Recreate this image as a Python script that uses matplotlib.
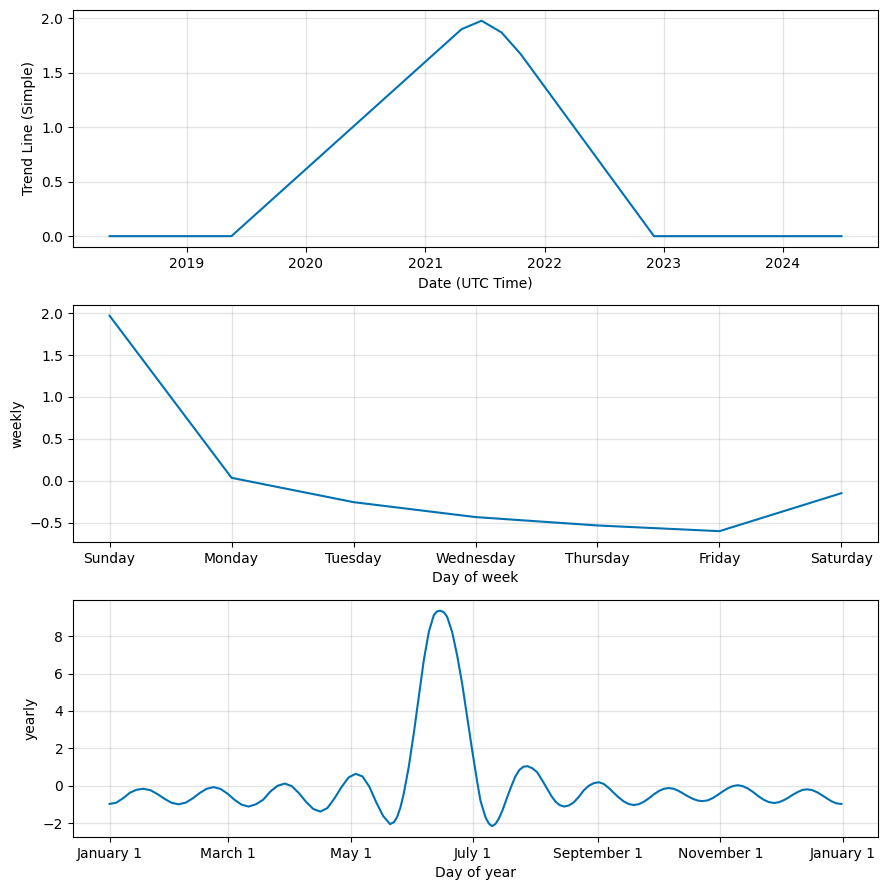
import matplotlib
matplotlib.use("Agg")
import matplotlib.pyplot as plt
import matplotlib.dates as mdates
import pandas as pd

# ---- Trend component ----
trend_dates = ['2018-05-10', '2019-05-18', '2021-04-22', '2021-06-22',
               '2021-08-22', '2021-10-20', '2022-12-02', '2024-06-28']
trend_values = [0.0, 0.0, 1.90, 1.977, 1.87, 1.67, 0.0, 0.0]

# ---- Weekly component ----
week_days = ['Sunday', 'Monday', 'Tuesday', 'Wednesday', 'Thursday', 'Friday', 'Saturday']
weekly_values = [1.968, 0.036, -0.254, -0.432, -0.532, -0.60, -0.147]

# ---- Yearly component (day of year, value) ----
yearly_days = [
    0.0, 3.4, 6.8, 10.1, 13.5, 16.9,
    20.4, 23.9, 27.4, 30.9, 34.4,
    37.9, 41.4, 44.8, 48.3, 51.8,
    55.3, 58.8, 62.2, 65.7, 69.2,
    72.8, 76.4, 80.0, 83.6, 87.2,
    90.7, 94.3, 97.8, 101.4, 104.9,
    108.4, 111.9, 115.5, 119.0, 122.5,
    125.9, 129.3, 132.8, 136.2, 139.6,
    141.5, 143.1, 144.8, 146.4, 148.9, 151.4, 153.9, 156.4, 158.9, 161.4, 163.0, 164.7,
    166.4, 168.0, 170.5, 173.0, 175.5, 178.0, 180.5, 183.0, 184.6, 187.1, 188.8, 190.4,
    192.0, 193.7, 195.8, 197.9, 200.0, 202.0, 204.0, 206.0, 208.0,
    210.4, 212.8, 215.3, 217.8, 220.0, 221.9, 224.0, 226.3,
    228.7, 231.1, 233.5, 236.0, 238.5, 241.0, 243.5,
    246.0, 248.5, 251.0, 253.5, 256.0, 258.5, 261.0,
    263.5, 266.0, 268.4, 270.9, 273.4, 275.9, 278.4,
    280.8, 283.2, 285.6, 288.0, 290.4, 292.8, 295.2,
    297.7, 300.2, 302.7, 305.1, 307.6, 310.1, 312.6,
    315.2, 317.8, 320.4, 322.9, 325.5, 328.1, 330.7,
    333.1, 335.4, 337.8, 340.2, 342.6, 344.9, 347.3,
    349.7, 352.1, 354.6, 357.0, 359.4, 361.8, 364.3,
]
yearly_values = [
    -0.97, -0.90, -0.66, -0.37, -0.21, -0.16,
    -0.24, -0.45, -0.70, -0.91, -0.99,
    -0.90, -0.67, -0.39, -0.16, -0.07,
    -0.17, -0.43, -0.75, -1.01, -1.11,
    -0.99, -0.75, -0.31, 0.00, 0.12,
    -0.02, -0.40, -0.86, -1.24, -1.38,
    -1.19, -0.68, -0.06, 0.45, 0.64,
    0.50, -0.05, -0.90, -1.62, -2.05,
    -1.95, -1.68, -1.15, -0.43, 1.00, 2.79, 4.75, 6.71, 8.23, 9.13, 9.33, 9.36,
    9.28, 9.04, 8.23, 6.98, 5.46, 3.68, 1.89, 0.20, -0.79, -1.68, -2.02, -2.16,
    -2.05, -1.77, -1.25, -0.61, -0.02, 0.50, 0.85, 1.02, 1.05,
    0.94, 0.73, 0.30, -0.16, -0.56, -0.84, -1.03, -1.11,
    -1.05, -0.88, -0.60, -0.25, 0.00, 0.14, 0.19,
    0.10, -0.12, -0.38, -0.63, -0.84, -0.98, -1.03,
    -0.98, -0.85, -0.67, -0.46, -0.28, -0.16, -0.12,
    -0.16, -0.27, -0.42, -0.57, -0.70, -0.79, -0.82,
    -0.78, -0.66, -0.49, -0.31, -0.14, -0.02, 0.03,
    -0.02, -0.15, -0.34, -0.55, -0.74, -0.87, -0.92,
    -0.88, -0.78, -0.64, -0.47, -0.33, -0.22, -0.19,
    -0.23, -0.34, -0.50, -0.67, -0.83, -0.94, -0.97,
]

line_color = '#0072B2'

fig, axes = plt.subplots(3, 1, figsize=(8.86, 8.90), dpi=100)
fig.subplots_adjust(left=0.0824, right=0.991, top=0.9888, bottom=0.0596, hspace=0.245)

# Trend
ax = axes[0]
tdates = pd.to_datetime(trend_dates)
ax.plot(tdates, trend_values, ls='-', c=line_color)
ax.xaxis.set_major_locator(mdates.YearLocator())
ax.xaxis.set_major_formatter(mdates.DateFormatter('%Y'))
ax.grid(True, which='major', c='gray', ls='-', lw=1, alpha=0.2)
ax.set_xlabel('Date (UTC Time)')
ax.set_ylabel('Trend Line (Simple)')

# Weekly
ax = axes[1]
ax.plot(range(len(week_days)), weekly_values, ls='-', c=line_color)
ax.set_xticks(range(len(week_days)))
ax.set_xticklabels(week_days)
ax.grid(True, which='major', c='gray', ls='-', lw=1, alpha=0.2)
ax.set_xlabel('Day of week')
ax.set_ylabel('weekly')

# Yearly
ax = axes[2]
ydates = pd.Timestamp('2017-01-01') + pd.to_timedelta(yearly_days, unit='D')
ax.plot(ydates, yearly_values, ls='-', c=line_color)
ax.xaxis.set_major_locator(mdates.MonthLocator(bymonth=[1, 3, 5, 7, 9, 11], bymonthday=1))
ax.xaxis.set_major_formatter(plt.FuncFormatter(
    lambda x, pos=None: '{dt:%B} {dt.day}'.format(dt=mdates.num2date(x))))
ax.grid(True, which='major', c='gray', ls='-', lw=1, alpha=0.2)
ax.set_xlabel('Day of year')
ax.set_ylabel('yearly')

fig.savefig('out.png', dpi=100)
